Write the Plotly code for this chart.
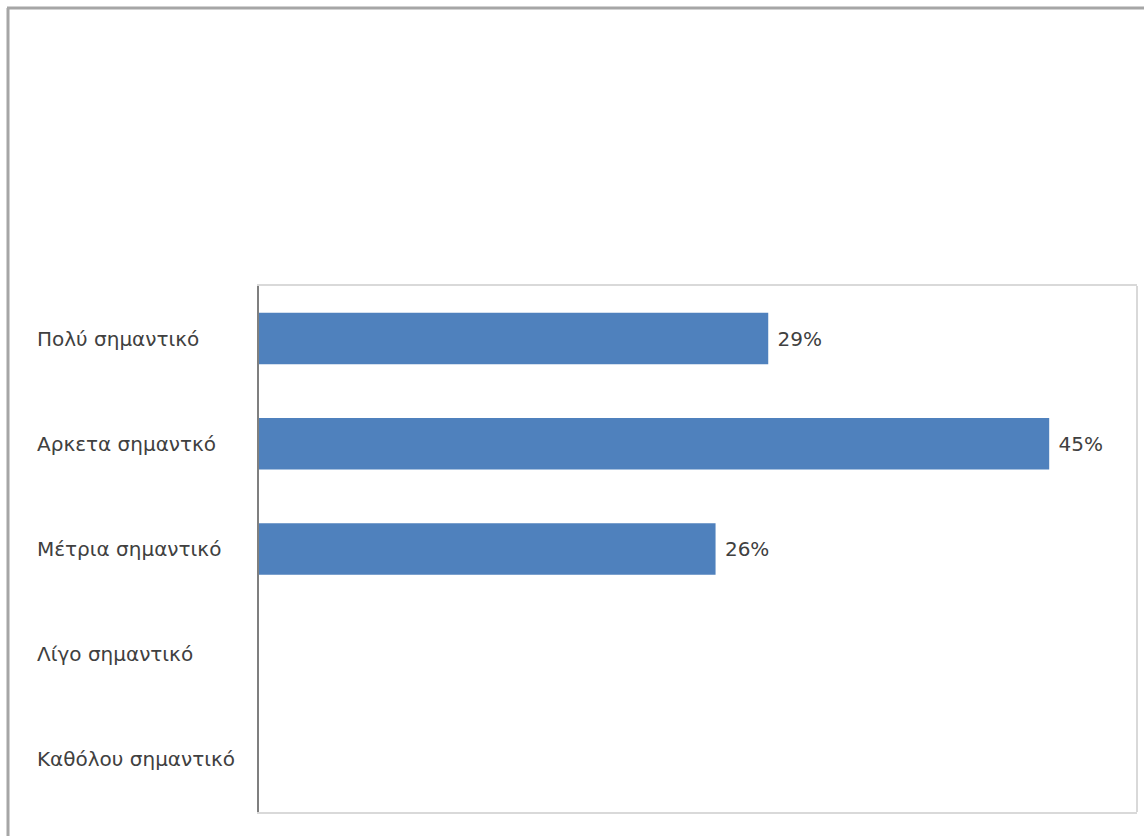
import plotly.graph_objects as go

categories = ["Πολύ σημαντικό", "Αρκετα σημαντκό", "Μέτρια σημαντικό", "Λίγο σημαντικό", "Καθόλου σημαντικό"]
values = [0.29, 0.45, 0.26, 0.0, 0.0]
labels = [f" {v:.0%}" if v > 0 else "" for v in values]

W, H = 1144, 836
L, R, T, B = 259, 1137, 286, 812
pw, ph = R - L, B - T
FONT = "DejaVu Sans"

def px(x):
    return (x - L) / pw

def py(y):
    return (B - y) / ph

fig = go.Figure()
fig.add_trace(go.Bar(
    y=categories, x=values, orientation="h",
    marker=dict(color="#4F81BD", line=dict(width=0)),
    text=labels, textposition="outside", cliponaxis=False,
    textfont=dict(family=FONT, size=20, color="#404040"),
    hoverinfo="skip",
))

annotations = []
for c in categories:
    annotations.append(dict(
        x=px(35), xref="paper", y=c, yref="y", text=c, showarrow=False,
        xanchor="left", yanchor="middle",
        font=dict(family=FONT, size=20, color="#404040"),
    ))

shapes = [
    # outer frame
    dict(type="line", xref="paper", yref="paper", x0=px(8), x1=px(8), y0=py(8), y1=py(840),
         line=dict(color="#a6a6a6", width=3)),
    dict(type="line", xref="paper", yref="paper", x0=px(7), x1=px(1150), y0=py(8), y1=py(8),
         line=dict(color="#a6a6a6", width=3)),
    # inner right edge
    dict(type="line", xref="paper", yref="paper", x0=1, x1=1, y0=0, y1=1,
         line=dict(color="#d9d9d9", width=2)),
]

fig.update_layout(
    width=W, height=H,
    margin=dict(l=L, r=W - R, t=T, b=H - B),
    paper_bgcolor="white", plot_bgcolor="white",
    bargap=0.51,
    showlegend=False,
    xaxis=dict(range=[0, 0.5], showticklabels=False, showgrid=False, zeroline=False,
               showline=True, mirror=True, linecolor="#d9d9d9", linewidth=2, ticks=""),
    yaxis=dict(categoryorder="array", categoryarray=categories, autorange="reversed",
               showticklabels=False, showgrid=False, zeroline=False,
               showline=True, linecolor="#7f7f7f", linewidth=2, ticks=""),
    annotations=annotations,
    shapes=shapes,
)

fig.write_html("out.html", config={"displayModeBar": False},
               post_script="document.body.style.margin='0';document.body.style.overflow='hidden';")
